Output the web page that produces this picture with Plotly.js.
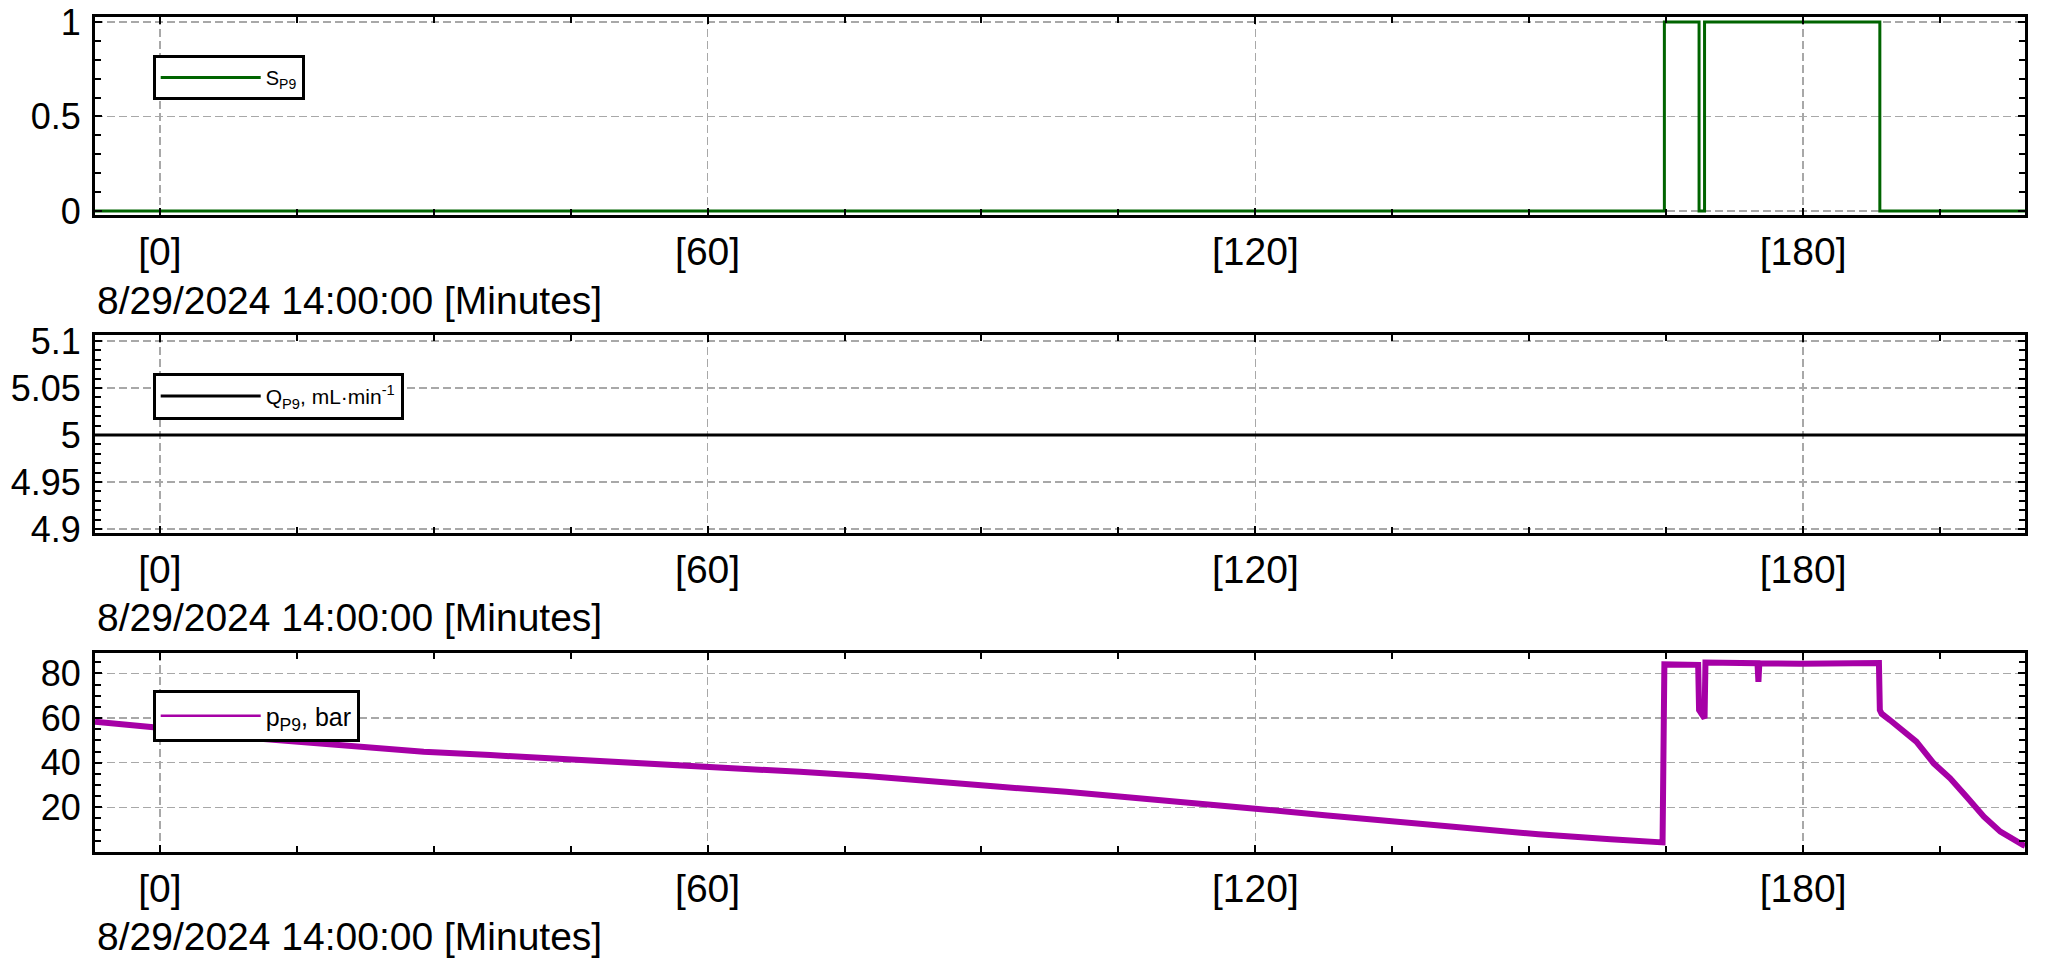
<!DOCTYPE html>
<html>
<head>
<meta charset="utf-8">
<script src="https://cdn.plot.ly/plotly-3.0.1.min.js"></script>
<style>html,body{margin:0;padding:0;background:#fff;}</style>
</head>
<body>
<div id="chart" style="width:2048px;height:963px;"></div>
<script>
// ---- data (minutes since 8/29/2024 14:00:00) ----
const xTickVals = [0, 60, 120, 180];
const xTickText = ['[0]', '[60]', '[120]', '[180]'];
const timeLabel = '8/29/2024 14:00:00 [Minutes]';

const sTickVals = [0, 0.5, 1];
const sTickText = ['0', '0.5', '1'];
const qTickVals = [4.9, 4.95, 5, 5.05, 5.1];
const qTickText = ['4.9', '4.95', '5', '5.05', '5.1'];
const pTickVals = [20, 40, 60, 80];
const pTickText = ['20', '40', '60', '80'];

const sName = 'S<sub>P9</sub>';
const sTime  = [-7.1, 164.8, 168.6, 169.2, 188.4, 204.3];
const sValue = [0, 1, 0, 1, 0, 0];

const qName = 'Q<sub>P9</sub>, mL·min<sup>-1</sup>';
const qTime  = [-7.1, 204.3];
const qValue = [5, 5];

const pName = 'p<sub>P9</sub>, bar';
const pTime  = [-7.1, -0.4, 6.9, 15.0, 21.5, 28.9, 36.2, 43.5, 48.5, 59.9, 70.1, 77.4, 84.7, 92.0, 99.3, 104.8,
                111.9, 119.7, 127.6, 135.4, 143.2, 151.0, 158.9, 164.6, 164.8, 166.5, 168.5, 168.6, 169.2, 169.3,
                172.0, 175.0, 175.1, 175.2, 179.7, 184.0, 188.3, 188.4, 188.6, 189.5, 190.6, 192.4, 194.3,
                196.1, 197.9, 199.8, 201.6, 203.0, 204.1, 204.3];
const pValue = [58.3, 55.8, 52.0, 49.4, 47.1, 44.9, 43.4, 41.9, 40.8, 38.5, 35.9, 34.0, 31.9, 29.2, 27.0, 25.1,
                22.5, 19.5, 16.5, 13.5, 10.6, 7.9, 5.7, 4.3, 84.0, 83.6, 83.8, 63.6, 59.9, 84.8,
                84.6, 84.5, 76.2, 84.5, 84.3, 84.4, 84.6, 63.6, 61.9, 59.1, 55.4, 49.4, 39.7,
                33.0, 24.7, 15.8, 9.1, 5.3, 3.1, 2.8];

const xRange = [-7.1, 204.3];
const FONT = 'Liberation Sans, Arial, sans-serif';

function xAxis(anchor) {
  return {
    domain: [0, 1], anchor: anchor, range: xRange,
    tickmode: 'array', tickvals: xTickVals, ticktext: xTickText,
    ticks: 'inside', ticklen: 7, tickwidth: 2, tickcolor: '#000',
    minor: {tickmode: 'linear', tick0: 0, dtick: 15, ticks: 'inside', ticklen: 6, tickwidth: 2, tickcolor: '#000', showgrid: false},
    showline: true, linewidth: 3, linecolor: '#000', mirror: 'allticks',
    showgrid: true, gridcolor: '#a8a8a8', gridwidth: 1.5, griddash: '8px,4px',
    zeroline: false, tickfont: {size: 39, color: '#000'}, ticklabelstandoff: 0
  };
}
function yAxis(anchor, domain, range, tv, tt, minorD) {
  return {
    domain: domain, anchor: anchor, range: range,
    tickmode: 'array', tickvals: tv, ticktext: tt,
    ticks: 'inside', ticklen: 7, tickwidth: 2, tickcolor: '#000',
    minor: {tickmode: 'linear', tick0: 0, dtick: minorD, ticks: 'inside', ticklen: 6, tickwidth: 2, tickcolor: '#000', showgrid: false},
    showline: true, linewidth: 3, linecolor: '#000', mirror: 'allticks',
    showgrid: true, gridcolor: '#a8a8a8', gridwidth: 1.5, griddash: '8px,4px',
    zeroline: false, tickfont: {size: 36, color: '#000'}, ticklabelstandoff: 4
  };
}
function legendBox(y, fs) {
  return {
    x: 0.0299, y: y, xanchor: 'left', yanchor: 'top',
    bgcolor: '#fff', bordercolor: '#000', borderwidth: 3,
    font: {size: fs, family: FONT, color: '#000'}, itemwidth: 100
  };
}

const traces = [
  {x: sTime, y: sValue, name: sName, type: 'scatter', mode: 'lines', line: {color: '#006400', width: 3, shape: 'hv'},
   xaxis: 'x', yaxis: 'y', legend: 'legend', showlegend: true},
  {x: qTime, y: qValue, name: qName, type: 'scatter', mode: 'lines', line: {color: '#000', width: 3},
   xaxis: 'x2', yaxis: 'y2', legend: 'legend2', showlegend: true},
  {x: pTime, y: pValue, name: pName, type: 'scatter', mode: 'lines', line: {color: '#a600a6', width: 6},
   xaxis: 'x3', yaxis: 'y3', legend: 'legend3', showlegend: false},
  // legend entry for the pressure trace (thin line sample, as in the reference legend)
  {x: [null], y: [null], name: pName, type: 'scatter', mode: 'lines', line: {color: '#a600a6', width: 2.5},
   xaxis: 'x3', yaxis: 'y3', legend: 'legend3', showlegend: true}
];

const layout = {
  width: 2048, height: 963,
  margin: {l: 95, r: 23, t: 17, b: 111},
  paper_bgcolor: '#fff', plot_bgcolor: '#fff',
  font: {family: FONT, color: '#000'},
  xaxis: xAxis('y'), xaxis2: xAxis('y2'), xaxis3: xAxis('y3'),
  yaxis: yAxis('x', [0.7629, 1], [-0.021, 1.026], sTickVals, sTickText, 0.1),
  yaxis2: yAxis('x2', [0.3820, 0.6192], [4.8958, 5.1064], qTickVals, qTickText, 0.01),
  yaxis3: yAxis('x3', [0, 0.2383], [0, 89.1], pTickVals, pTickText, 5),
  legend: legendBox(0.9545, 20), legend2: legendBox(0.5737, 21), legend3: legendBox(0.194, 25),
  annotations: [0.661, 0.2814, -0.1006].map(function (yy) {
    return {text: timeLabel, xref: 'paper', yref: 'paper', x: 0, y: yy, xanchor: 'left', yanchor: 'middle',
            showarrow: false, font: {size: 39, family: FONT, color: '#000'}};
  })
};

Plotly.newPlot('chart', traces, layout, {displayModeBar: false, staticPlot: true});
</script>
</body>
</html>
